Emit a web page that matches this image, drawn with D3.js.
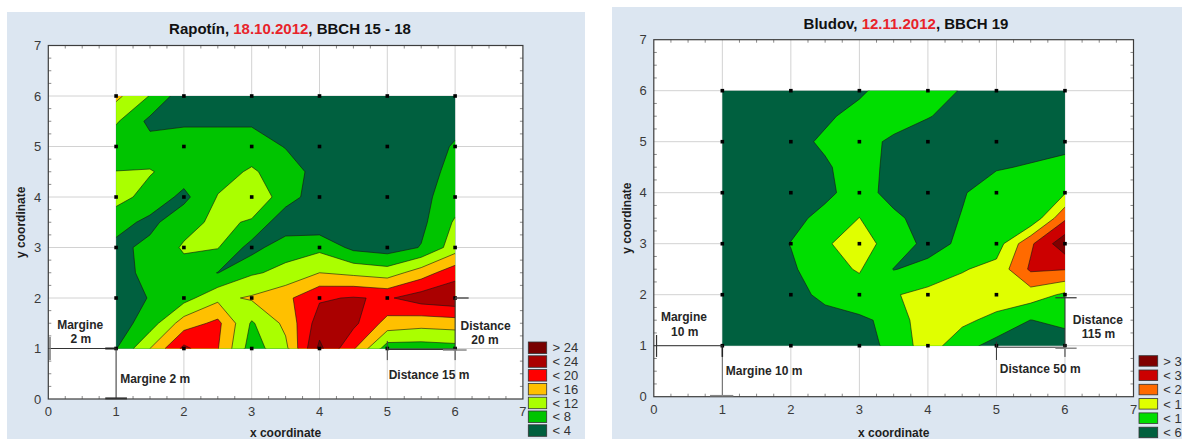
<!DOCTYPE html>
<html><head><meta charset="utf-8">
<script src="https://cdn.jsdelivr.net/npm/d3@7"></script>
<style>body{margin:0;background:#fff;}svg{display:block;font-family:"Liberation Sans",Arial,sans-serif;}</style>
</head><body>
<svg id="chart" width="1182" height="439"></svg>
<script>
// ---------- DATA ----------
const xTicks = [0,1,2,3,4,5,6,7];
const yTicks = [0,1,2,3,4,5,6,7];
const nodeX = [1,2,3,4,5,6];
const nodeY = [1,2,3,4,5,6];
const sampleX = [1,1.5,2,2.5,3,3.5,4,4.5,5,5.5,6];
const sampleY = [6,5.5,5,4.5,4,3.5,3,2.5,2,1.5,1];

const rapotinTitle = ["Rapotín, ", "18.10.2012", ", BBCH 15 - 18"];
const rapotinThresholds = [0,4,8,12,16,20,24];
const rapotinColors = ["#00603f","#00c400","#aaff00","#ffc000","#ff0000","#aa0000","#780000"];
const rapotinLegend = ["< 4","< 8","< 12","< 16","< 20","< 24","> 24"];
const rapotinValues = [
  [13, 7.8, 1.5, 1, 1, 1, 1, 1, 1, 1, 1],
  [8.5, 3, 3.4, 3.4, 3.4, 3, 2, 1, 1, 1, 2.5],
  [5, 5.5, 6, 6, 6, 3.8, 1.5, 1, 1, 1.5, 4.5],
  [8.1, 8.3, 6, 6.5, 8.5, 6, 2.5, 1, 1, 2, 5.5],
  [9.5, 6.5, 3, 8.2, 11, 6, 1.5, 1, 1, 3, 6],
  [5.5, 3, 6.5, 9, 7.5, 1, 1, 1, 1, 3, 8.5],
  [3, 5, 8.5, 8.2, 2.5, 6.5, 7, 3, 2, 4.2, 10],
  [2, 5.5, 6.5, 3.9, 7.5, 9, 12, 11, 10, 14, 18.5],
  [3, 4.1, 6.5, 11, 12.5, 15, 19.5, 20.3, 19.5, 22, 23],
  [2, 6, 14, 17, 7.5, 13, 22, 21, 14.5, 13.5, 14],
  [3.8, 12, 21, 16.2, 6, 11, 25, 16.5, 6, 6, 6.5]
];

const bludovTitle = ["Bludov, ", "12.11.2012", ", BBCH 19"];
const bludovThresholds = [0,6,12,18,24,30];
const bludovColors = ["#00603f","#00de00","#e0ff00","#ff6a00","#cc0000","#800000"];
const bludovLegend = ["< 6","< 12","< 18","< 24","< 30","> 30"];
const bludovValues = [
  [3, 3, 3, 3, 5, 9, 8, 5.7, 3, 3, 3],
  [3, 3, 3, 5, 8, 8.5, 6.3, 4, 3, 3, 3],
  [3, 3, 4, 7, 8, 5, 3, 3, 3, 3.5, 4.5],
  [3, 3, 3.5, 5.2, 9, 4, 3, 3, 5.5, 6.5, 7.5],
  [3, 3, 3, 4.5, 9, 3.5, 3, 5.5, 9, 9.5, 11.5],
  [3, 3, 4, 8, 12.1, 7.5, 3, 6.3, 9.5, 7, 23],
  [3, 3, 6.2, 11.5, 14, 10, 4, 7, 9, 23, 34],
  [3, 3, 5, 10, 12.5, 5.8, 7.5, 11.5, 14, 25, 24.3],
  [3, 3, 4.5, 7, 9.5, 11.5, 14, 15, 16, 15, 11],
  [3, 3, 3, 4.5, 5, 7.5, 17, 13.5, 10, 5.9, 7.5],
  [3, 3, 3, 3, 3, 8, 15, 8, 4, 3.5, 3]
];

// ---------- LAYOUT ----------
const panels = [
  {
    id: "p1", title: rapotinTitle, values: rapotinValues, thresholds: rapotinThresholds,
    colors: rapotinColors, legend: rapotinLegend,
    bg: [7, 12, 578, 427], plot: {x0: 48.3, x1: 522.9, y0: 399, y1: 45.5},
    titleX: 290, titleY: 34, xLabelY: 437, yLabelX: 25,
    leg: {x: 528.3, y: 342, w: 18.4, h: 11.5, step: 13.8, tx: 552.5},
    lines: [
      [0,1,1,1,"#333",1],[0.025,0.77,0.025,1.23,"#777",1.5],
      [1,1,1,0,"#444",1],[0.84,0.012,1.16,0.012,"#333",2],[0.84,1,1,1,"#222",2],
      [5,0.985,6,0.985,"#333",1.5],[5,1.15,5,0.77,"#444",1],[6,2,6,0.77,"#333",1],
      [6,2,6.2,2,"#555",1.5],[5.82,0.97,6.17,0.97,"#888",1.5]
    ],
    texts: [
      ["Margine",0.47,1.465,"middle"],["2 m",0.48,1.19,"middle"],
      ["Margine 2 m",1.06,0.40,"start"],["Distance 15 m",5.02,0.475,"start"],
      ["Distance",6.45,1.445,"middle"],["20 m",6.44,1.17,"middle"]
    ]
  },
  {
    id: "p2", title: bludovTitle, values: bludovValues, thresholds: bludovThresholds,
    colors: bludovColors, legend: bludovLegend,
    bg: [612, 7, 570, 432], plot: {x0: 653.8, x1: 1133.5, y0: 396.7, y1: 39.7},
    titleX: 906, titleY: 29, xLabelY: 436.5, yLabelX: 631,
    leg: {x: 1139, y: 355.7, w: 18.7, h: 10.5, step: 14.3, tx: 1163.3},
    lines: [
      [0,1,1,1,"#333",1],[0.04,0.78,0.04,1.21,"#333",1.2],
      [1,1,1,0,"#666",1],[1,1,1,0.78,"#222",1.5],[0.82,0.02,1.16,0.02,"#888",1.5],
      [5,0.97,6,0.97,"#333",1],[5,1.08,5,0.72,"#333",1],[6,1.97,6,0.78,"#333",1],
      [5.86,1.94,6.17,1.94,"#333",1.2],[5.86,0.95,6.17,0.95,"#888",1.5]
    ],
    texts: [
      ["Margine",0.44,1.56,"middle"],["10 m",0.45,1.28,"middle"],
      ["Margine 10 m",1.05,0.52,"start"],["Distance 50 m",5.05,0.54,"start"],
      ["Distance",6.48,1.52,"middle"],["115 m",6.49,1.24,"middle"]
    ]
  }
];

const svg = d3.select("#chart");
svg.append("rect").attr("width",1182).attr("height",439).attr("fill","#fff");
const defs = svg.append("defs");

function drawPanel(p) {
  const g = svg.append("g");
  g.append("rect").attr("x",p.bg[0]).attr("y",p.bg[1]).attr("width",p.bg[2]).attr("height",p.bg[3]).attr("fill","#dce6f1");
  const x = d3.scaleLinear().domain([0,7]).range([p.plot.x0, p.plot.x1]);
  const y = d3.scaleLinear().domain([0,7]).range([p.plot.y0, p.plot.y1]);

  g.append("rect").attr("x",x(0)).attr("y",y(7)).attr("width",x(7)-x(0)).attr("height",y(0)-y(7)).attr("fill","#fff");

  // grid
  g.append("g").selectAll("line").data(xTicks.slice(1,-1)).join("line")
    .attr("x1",d=>x(d)).attr("x2",d=>x(d)).attr("y1",y(0)).attr("y2",y(7))
    .attr("stroke","#d2d2d2").attr("stroke-width",1);
  g.append("g").selectAll("line").data(yTicks.slice(1,-1)).join("line")
    .attr("y1",d=>y(d)).attr("y2",d=>y(d)).attr("x1",x(0)).attr("x2",x(7))
    .attr("stroke","#d2d2d2").attr("stroke-width",1);

  // minor ticks
  const minor = d3.range(0.25, 7, 0.25).filter(v => Math.abs(v - Math.round(v)) > 0.01);
  const mt = g.append("g").attr("stroke","#8a8a8a").attr("stroke-width",1);
  minor.forEach(v => {
    mt.append("line").attr("x1",x(v)).attr("x2",x(v)).attr("y1",y(7)).attr("y2",y(7)+3);
    mt.append("line").attr("x1",x(v)).attr("x2",x(v)).attr("y1",y(0)).attr("y2",y(0)-3);
    mt.append("line").attr("y1",y(v)).attr("y2",y(v)).attr("x1",x(0)).attr("x2",x(0)+3);
    mt.append("line").attr("y1",y(v)).attr("y2",y(v)).attr("x1",x(7)).attr("x2",x(7)-3);
  });

  // contours
  const n = sampleX.length, m = sampleY.length;
  const flat = p.values.flat();
  const bands = d3.contours().size([n, m]).thresholds(p.thresholds)(flat);
  const dxs = sampleX[1] - sampleX[0], dys = sampleY[1] - sampleY[0];
  const proj = d3.geoTransform({point(px, py) {
    this.stream.point(x(sampleX[0] + (px - 0.5) * dxs), y(sampleY[0] + (py - 0.5) * dys));
  }});
  const path = d3.geoPath(proj);
  const x1 = d3.min(sampleX), x2 = d3.max(sampleX), y1 = d3.min(sampleY), y2 = d3.max(sampleY);
  defs.append("clipPath").attr("id", p.id + "-clip").append("rect")
    .attr("x", x(x1)).attr("y", y(y2)).attr("width", x(x2) - x(x1)).attr("height", y(y1) - y(y2));
  g.append("g").attr("clip-path", `url(#${p.id}-clip)`).selectAll("path").data(bands).join("path")
    .attr("d", path).attr("fill", (d, i) => p.colors[i])
    .attr("stroke", "#141414").attr("stroke-width", 0.6).attr("stroke-linejoin","round");

  // frame
  g.append("rect").attr("x",x(0)).attr("y",y(7)).attr("width",x(7)-x(0)).attr("height",y(0)-y(7))
    .attr("fill","none").attr("stroke","#3c3c3c").attr("stroke-width",1.2);

  // node markers
  const nodes = [];
  nodeY.forEach(yy => nodeX.forEach(xx => nodes.push([xx, yy])));
  g.append("g").selectAll("rect").data(nodes).join("rect")
    .attr("x", d => x(d[0]) - 1.8).attr("y", d => y(d[1]) - 1.8)
    .attr("width", 3.6).attr("height", 3.6).attr("fill", "#000");

  // annotations
  const al = g.append("g");
  p.lines.forEach(l => {
    al.append("line").attr("x1",x(l[0])).attr("y1",y(l[1])).attr("x2",x(l[2])).attr("y2",y(l[3]))
      .attr("stroke",l[4]).attr("stroke-width",l[5]);
  });
  p.texts.forEach(t => {
    al.append("text").attr("x",x(t[1])).attr("y",y(t[2])).attr("dy","0.36em")
      .attr("text-anchor",t[3]).attr("font-size",12).attr("font-weight","bold").attr("fill","#262626").text(t[0]);
  });

  // tick labels
  g.append("g").selectAll("text").data(xTicks).join("text")
    .attr("x", d => x(d)).attr("y", y(0) + 17.3).attr("text-anchor","middle")
    .attr("font-size",13).attr("fill","#3a3a3a").text(d => d);
  g.append("g").selectAll("text").data(yTicks).join("text")
    .attr("x", x(0) - 7).attr("y", d => y(d)).attr("dy","0.36em").attr("text-anchor","end")
    .attr("font-size",13).attr("fill","#3a3a3a").text(d => d);

  // axis titles
  g.append("text").attr("x",(x(0)+x(7))/2).attr("y",p.xLabelY).attr("text-anchor","middle")
    .attr("font-size",12).attr("font-weight","bold").attr("fill","#1e1e1e").text("x coordinate");
  g.append("text").attr("transform",`translate(${p.yLabelX},${(y(0)+y(7))/2}) rotate(-90)`)
    .attr("text-anchor","middle").attr("font-size",12).attr("font-weight","bold").attr("fill","#1e1e1e").text("y coordinate");

  // title
  const tt = g.append("text").attr("x",p.titleX).attr("y",p.titleY).attr("text-anchor","middle")
    .attr("font-size",15).attr("font-weight","bold").attr("fill","#111");
  tt.append("tspan").text(p.title[0]);
  tt.append("tspan").attr("fill","#e8232a").text(p.title[1]);
  tt.append("tspan").text(p.title[2]);

  // legend
  const L = p.leg;
  const items = p.legend.map((lab, i) => ({lab, col: p.colors[i]})).reverse();
  const lg = g.append("g");
  items.forEach((it, i) => {
    lg.append("rect").attr("x",L.x).attr("y",L.y + i*L.step).attr("width",L.w).attr("height",L.h)
      .attr("fill",it.col).attr("stroke","#333").attr("stroke-width",0.8);
    lg.append("text").attr("x",L.tx).attr("y",L.y + i*L.step + L.h/2).attr("dy","0.36em")
      .attr("font-size",13).attr("fill","#333").text(it.lab);
  });
}

panels.forEach(drawPanel);
</script>
</body></html>
